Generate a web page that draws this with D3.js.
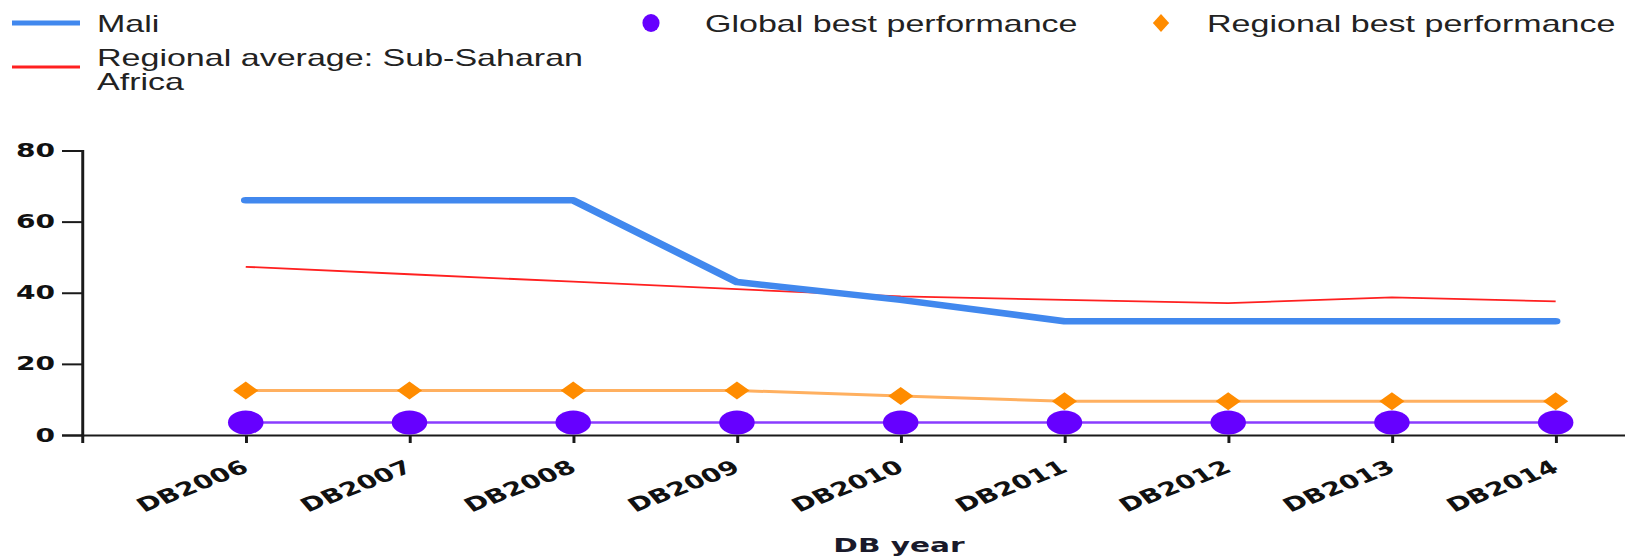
<!DOCTYPE html>
<html><head><meta charset="utf-8">
<script src="https://cdn.jsdelivr.net/npm/d3@7"></script>
<style>html,body{margin:0;padding:0;background:#fff;overflow:hidden}</style>
</head><body>
<svg id="chart"></svg>
<script>
const categories = ["DB2006","DB2007","DB2008","DB2009","DB2010","DB2011","DB2012","DB2013","DB2014"];
const mali = [66,66,66,43,38,32,32,32,32];
const regionalAverage = [47.3,45.2,43.1,41.0,39.0,38.0,37.1,38.7,37.6];
const globalBest = [3.5,3.5,3.5,3.5,3.5,3.5,3.5,3.5,3.5];
const regionalBest = [12.5,12.5,12.5,12.5,11,9.5,9.5,9.5,9.5];
const yTicks = [0,20,40,60,80];
const seriesNames = ["Mali","Regional average: Sub-Saharan","Africa","Global best performance","Regional best performance"];
const xTitle = "DB year";

const W = 1625, H = 557, S = 1.48, VW = W / S;
const fx = v => v / S;

const svg = d3.select("#chart")
  .attr("width", W).attr("height", H)
  .attr("viewBox", `0 0 ${VW} ${H}`)
  .attr("preserveAspectRatio", "none");

const x = d3.scalePoint().domain(categories).range([fx(82), fx(82 + 10 * 163.74)]).padding(1);
const y = d3.scaleLinear().domain([0, 80]).range([435, 150.5]);

// Y axis
const yAxis = svg.append("g").attr("transform", `translate(${fx(82)},0)`)
  .call(d3.axisLeft(y).tickValues(yTicks).tickSize(fx(20)).tickPadding(fx(7)));
yAxis.selectAll("path,line").attr("stroke", "#1a1a1a").attr("stroke-width", 2);
yAxis.selectAll("text").attr("font-family", "DejaVu Sans, Verdana, sans-serif")
  .attr("font-weight", "bold").attr("font-size", 19).attr("fill", "#111");

// X axis
const xAxis = svg.append("g").attr("transform", `translate(0,435)`)
  .call(d3.axisBottom(x).tickSize(8).tickSizeOuter(8).tickPadding(0));
xAxis.selectAll("path,line").attr("stroke", "#1a1a1a").attr("stroke-width", 2);
xAxis.selectAll("text")
  .attr("font-family", "DejaVu Sans, Verdana, sans-serif")
  .attr("font-weight", "bold").attr("font-size", 19).attr("fill", "#111")
  .attr("text-anchor", "end").attr("dy", null).attr("y", 0).attr("x", 0)
  .attr("transform", `translate(${fx(4)},36) rotate(-30)`);

svg.append("text").attr("x", fx(899)).attr("y", 552).attr("text-anchor", "middle")
  .attr("font-family", "DejaVu Sans, Verdana, sans-serif").attr("font-weight", "bold")
  .attr("font-size", 20).attr("fill", "#1a1a2a").text(xTitle);

const line = d3.line().x((d, i) => x(categories[i])).y(d => y(d));

// Global best line + markers
svg.append("path").datum(globalBest).attr("d", line).attr("fill", "none")
  .attr("stroke", "#8a3cff").attr("stroke-width", 2.5);
svg.selectAll(".gdot").data(globalBest).enter().append("circle")
  .attr("cx", (d, i) => x(categories[i])).attr("cy", d => y(d)).attr("r", 12)
  .attr("fill", "#6600ff");

// Regional best line + markers
svg.append("path").datum(regionalBest).attr("d", line).attr("fill", "none")
  .attr("stroke", "#ffb060").attr("stroke-width", 3);
const diamond = (cx, cy, hw, hh) => `M${cx},${cy - hh}L${cx + hw},${cy}L${cx},${cy + hh}L${cx - hw},${cy}Z`;
svg.selectAll(".rdia").data(regionalBest).enter().append("path")
  .attr("d", (d, i) => diamond(x(categories[i]), y(d), 8.5, 9))
  .attr("fill", "#ff8c00");

// Regional average
svg.append("path").datum(regionalAverage).attr("d", line).attr("fill", "none")
  .attr("stroke", "#ff2020").attr("stroke-width", 1.8);

// Mali
svg.append("path").datum(mali).attr("d", line).attr("fill", "none")
  .attr("stroke", "#4188ee").attr("stroke-width", 6.5)
  .attr("stroke-linecap", "round").attr("stroke-linejoin", "round");

// Legend
const lg = svg.append("g").attr("font-family", "Liberation Sans, Arial, sans-serif")
  .attr("font-size", 23).attr("fill", "#222");
lg.append("line").attr("x1", fx(12)).attr("x2", fx(80)).attr("y1", 23).attr("y2", 23)
  .attr("stroke", "#4188ee").attr("stroke-width", 5);
lg.append("text").attr("x", fx(97)).attr("y", 32).text(seriesNames[0]);
lg.append("line").attr("x1", fx(12)).attr("x2", fx(80)).attr("y1", 67).attr("y2", 67)
  .attr("stroke", "#ff2020").attr("stroke-width", 3);
lg.append("text").attr("x", fx(97)).attr("y", 66).text(seriesNames[1]);
lg.append("text").attr("x", fx(97)).attr("y", 90).text(seriesNames[2]);
lg.append("ellipse").attr("cx", fx(651)).attr("cy", 23).attr("rx", 5.8).attr("ry", 9)
  .attr("fill", "#6600ff");
lg.append("text").attr("x", fx(705)).attr("y", 32).text(seriesNames[3]);
lg.append("path").attr("d", diamond(fx(1161), 23, 5.5, 9)).attr("fill", "#ff8c00");
lg.append("text").attr("x", fx(1207)).attr("y", 32).text(seriesNames[4]);
</script>
</body></html>
